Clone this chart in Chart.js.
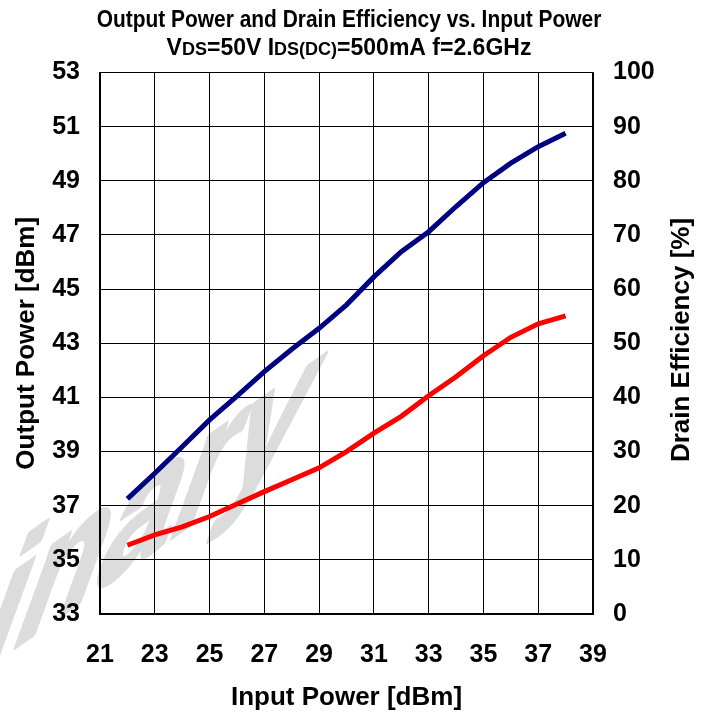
<!DOCTYPE html>
<html>
<head>
<meta charset="utf-8">
<script src="https://cdn.jsdelivr.net/npm/chart.js@4.4.1/dist/chart.umd.min.js"></script>
<style>
  html, body { margin: 0; padding: 0; background: #ffffff; }
  #wrap { width: 712px; height: 716px; position: relative; }
</style>
</head>
<body>
<div id="wrap"><canvas id="c" width="712" height="716"></canvas></div>
<script>
// ---- data ----
const inputPower = [22, 23, 24, 25, 26, 27, 28, 29, 30, 31, 32, 33, 34, 35, 36, 37, 38];
const outputPower = [37.25, 38.2, 39.18, 40.17, 41.05, 41.95, 42.78, 43.55, 44.42, 45.45, 46.38, 47.12, 48.05, 48.93, 49.65, 50.26, 50.76];
const drainEfficiency = [12.7, 14.6, 16.1, 18.0, 20.3, 22.6, 24.8, 27.0, 30.0, 33.4, 36.5, 40.3, 43.8, 47.7, 51.1, 53.6, 55.05];
const xTicks = [21, 23, 25, 27, 29, 31, 33, 35, 37, 39];
const yLeftTicks = [33, 35, 37, 39, 41, 43, 45, 47, 49, 51, 53];
const yRightTicks = [0, 10, 20, 30, 40, 50, 60, 70, 80, 90, 100];
const titleLine1 = "Output Power and Drain Efficiency vs. Input Power";
const titleLine2 = [["V", false], ["DS", true], ["=50V I", false], ["DS(DC)", true], ["=500mA f=2.6GHz", false]];
const rightAxisTitle = "Drain Efficiency [%]";
const watermarkText = "Preliminary";

const FONT = "'Liberation Sans', Arial, Helvetica, sans-serif";

const watermarkPlugin = {
  id: 'watermark',
  beforeDraw(chart) {
    const ctx = chart.ctx;
    ctx.save();
    const ang = 35 * Math.PI / 180;
    const stem = 20 * Math.PI / 180;
    const s = 0.8, t = 1.0;
    ctx.setTransform(Math.cos(ang) * s, -Math.sin(ang) * s,
                     -Math.sin(stem) * t, Math.cos(stem) * t, 290, 455);
    ctx.font = "bold 205px " + FONT;
    ctx.fillStyle = '#dcdcdc';
    ctx.strokeStyle = '#dcdcdc';
    ctx.lineWidth = 6;
    ctx.lineJoin = 'round';
    ctx.textAlign = 'right';
    ctx.textBaseline = 'alphabetic';
    ctx.fillText(watermarkText, 0, 0);
    ctx.strokeText(watermarkText, 0, 0);
    ctx.restore();
  }
};

const titlePlugin = {
  id: 'titles',
  afterDraw(chart) {
    const ctx = chart.ctx;
    ctx.save();
    ctx.fillStyle = '#000';
    ctx.textBaseline = 'alphabetic';
    // line 1 (slightly condensed)
    ctx.save();
    ctx.translate(349, 27);
    ctx.scale(0.91, 1);
    ctx.font = "bold 23px " + FONT;
    ctx.textAlign = 'center';
    ctx.fillText(titleLine1, 0, 0);
    ctx.restore();
    // line 2 with small-size subscripts
    const big = "bold 23px " + FONT, small = "bold 18px " + FONT;
    let total = 0;
    titleLine2.forEach(([txt, sub]) => { ctx.font = sub ? small : big; total += ctx.measureText(txt).width; });
    let x = 349 - total / 2;
    ctx.textAlign = 'left';
    titleLine2.forEach(([txt, sub]) => {
      ctx.font = sub ? small : big;
      ctx.fillText(txt, x, 55);
      x += ctx.measureText(txt).width;
    });
    // right axis title, reading bottom to top
    ctx.save();
    ctx.translate(682, 340);
    ctx.rotate(-Math.PI / 2);
    ctx.font = "bold 26px " + FONT;
    ctx.textAlign = 'center';
    ctx.textBaseline = 'middle';
    ctx.fillText(rightAxisTitle, 0, 0);
    ctx.restore();
    ctx.restore();
  }
};

const tickFont = { family: FONT, size: 25, weight: 'bold' };
const axisTitleFont = { family: FONT, size: 26, weight: 'bold' };

new Chart(document.getElementById('c'), {
  type: 'line',
  data: {
    datasets: [
      {
        label: 'Output Power',
        data: inputPower.map((x, i) => ({ x: x, y: outputPower[i] })),
        borderColor: '#000080',
        borderWidth: 5,
        pointRadius: 0,
        tension: 0,
        yAxisID: 'y',
        fill: false
      },
      {
        label: 'Drain Efficiency',
        data: inputPower.map((x, i) => ({ x: x, y: drainEfficiency[i] })),
        borderColor: '#ff0000',
        borderWidth: 5,
        pointRadius: 0,
        tension: 0,
        yAxisID: 'y2',
        fill: false
      }
    ]
  },
  options: {
    responsive: false,
    animation: false,
    devicePixelRatio: 1,
    layout: { padding: { top: 72.5, left: 0, right: 0, bottom: 0 } },
    plugins: { legend: { display: false }, title: { display: false }, tooltip: { enabled: false } },
    scales: {
      x: {
        type: 'linear',
        min: 21, max: 39,
        afterBuildTicks: (s) => { s.ticks = xTicks.map(v => ({ value: v })); },
        afterFit: (s) => { s.height = 102; },
        grid: { color: '#000', lineWidth: 1, drawTicks: false },
        border: { color: '#000', width: 2 },
        ticks: { font: tickFont, color: '#000', padding: 26, maxRotation: 0, autoSkip: false },
        title: { display: true, text: 'Input Power [dBm]', font: axisTitleFont, color: '#000', padding: { top: 0, bottom: 3 } }
      },
      y: {
        type: 'linear',
        position: 'left',
        min: 33, max: 53,
        afterBuildTicks: (s) => { s.ticks = yLeftTicks.map(v => ({ value: v })); },
        afterFit: (s) => { s.width = 100; },
        grid: { color: '#000', lineWidth: 1, drawTicks: false },
        border: { color: '#000', width: 2 },
        ticks: { font: tickFont, color: '#000', padding: 20, autoSkip: false },
        title: { display: true, text: 'Output Power [dBm]', font: axisTitleFont, color: '#000', padding: { top: 11, bottom: 0 } }
      },
      y2: {
        type: 'linear',
        position: 'right',
        min: 0, max: 100,
        afterBuildTicks: (s) => { s.ticks = yRightTicks.map(v => ({ value: v })); },
        afterFit: (s) => { s.width = 119; },
        grid: { display: false, drawTicks: false },
        border: { color: '#000', width: 1.5 },
        ticks: { font: tickFont, color: '#000', padding: 20, autoSkip: false },
        title: { display: false }
      }
    }
  },
  plugins: [watermarkPlugin, titlePlugin]
});
</script>
</body>
</html>
